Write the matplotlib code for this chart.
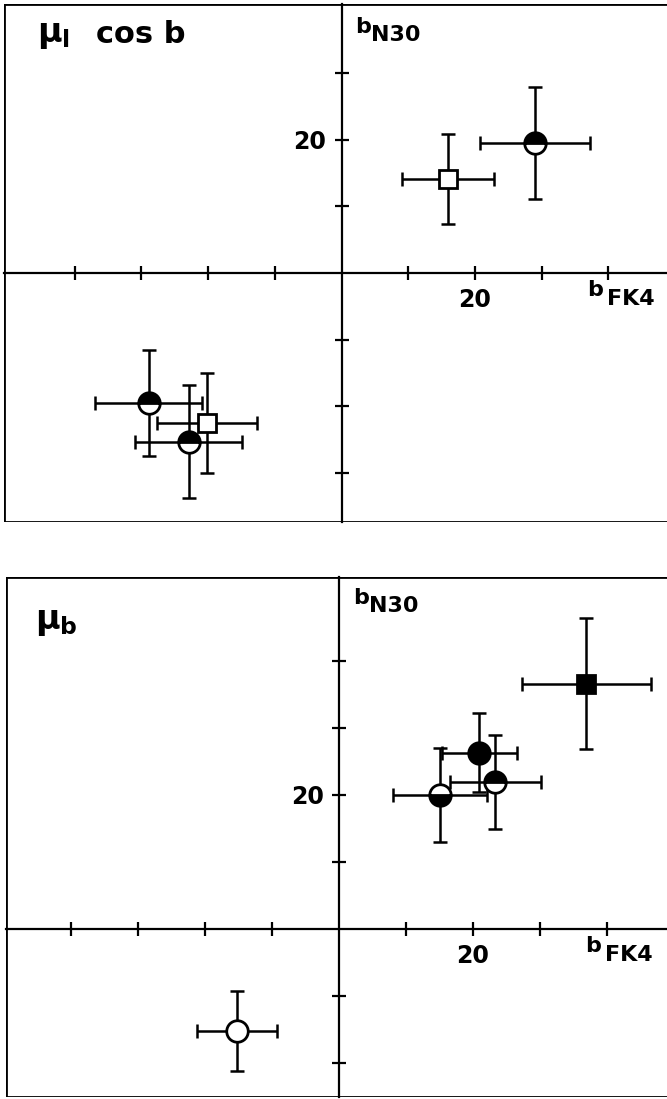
import matplotlib
matplotlib.use("Agg")
import matplotlib.pyplot as plt
from matplotlib.patches import Rectangle

# ---------------- data ----------------
# top panel: mu_l cos b   (b_FK4 on x, b_N30 on y)
top_x = [16.0, 29.0, -28.9, -20.2, -22.9]
top_y = [14.1, 19.5, -19.5, -22.5, -25.3]
top_xerr = [6.9, 8.3, 8.0, 7.5, 8.0]
top_yerr = [6.8, 8.4, 8.0, 7.5, 8.5]
top_marker = ["s", "o", "o", "s", "o"]
top_fill = ["none", "top", "top", "none", "top"]

# bottom panel: mu_b
bot_x = [15.1, 20.9, 23.3, 36.9, -15.2]
bot_y = [20.0, 26.3, 21.9, 36.6, -15.2]
bot_xerr = [7.0, 5.6, 6.8, 9.6, 6.0]
bot_yerr = [7.0, 5.9, 7.0, 9.8, 6.0]
bot_marker = ["o", "o", "o", "s", "o"]
bot_fill = ["bottom", "full", "top", "full", "none"]

x_ticks = [-40, -30, -20, -10, 10, 20, 30, 40]
top_y_ticks = [-30, -20, -10, 10, 20, 30]
bot_y_ticks = [-20, -10, 10, 20, 30, 40]
labelled_tick = 20

W, H = 667, 1099
fig = plt.figure(figsize=(W / 100, H / 100), dpi=100)
plt.rcParams["font.family"] = ["DejaVu Sans"]


def ftext(px, py, s, size, **kw):
    """Text placed by figure pixel position (top-left anchor)."""
    fig.text(px / W, 1 - py / H, s, fontsize=size, fontweight="bold",
             va="top", ha="left", **kw)


def make_axes(px_left, px_right, px_top, px_bottom, x0, y0, scale):
    ax = fig.add_axes([px_left / W, 1 - px_bottom / H,
                       (px_right - px_left) / W, (px_bottom - px_top) / H])
    ax.set_xlim((px_left - x0) / scale, (px_right - x0) / scale)
    ax.set_ylim((y0 - px_bottom) / scale, (y0 - px_top) / scale)
    return ax


def style(ax, yticks):
    ax.spines["left"].set_position(("data", 0))
    ax.spines["bottom"].set_position(("data", 0))
    ax.spines["top"].set_visible(False)
    ax.spines["right"].set_visible(False)
    for s in ("left", "bottom"):
        ax.spines[s].set_linewidth(1.6)
    ax.add_patch(Rectangle((0, 0), 1.02, 1, transform=ax.transAxes, fill=False,
                           lw=2.0, ec="black", clip_on=True, zorder=5))
    ax.set_xticks(x_ticks)
    ax.set_xticklabels([str(t) if t == labelled_tick else "" for t in x_ticks])
    ax.set_yticks(yticks)
    ax.set_yticklabels([str(t) if t == labelled_tick else "" for t in yticks])
    ax.tick_params(direction="inout", length=10, width=1.6, labelsize=17, pad=6)
    for lab in ax.get_xticklabels() + ax.get_yticklabels():
        lab.set_fontweight("bold")


def draw_points(ax, xs, ys, xe, ye, markers, fills):
    for x, y, dx, dy, m, f in zip(xs, ys, xe, ye, markers, fills):
        ms = 15.5 if m == "o" else 13
        ax.errorbar([x], [y], xerr=[dx], yerr=[dy], fmt="none", ecolor="black",
                    elinewidth=1.8, capsize=5, capthick=1.8, zorder=3)
        if f == "none":
            ax.plot([x], [y], marker=m, ms=ms, mfc="white", mec="black", mew=2.0,
                    ls="none", zorder=4)
        else:
            ax.plot([x], [y], marker=m, ms=ms, fillstyle=f, mfc="black",
                    mfcalt="white", mec="black", mew=2.0, ls="none", zorder=4)


# ---------------- top panel ----------------
ax1 = make_axes(4, 669, 4, 522, 341.5, 273, 6.67)
style(ax1, top_y_ticks)
draw_points(ax1, top_x, top_y, top_xerr, top_yerr, top_marker, top_fill)
ftext(37, 18, r"$\mathbf{\mu}_{\mathbf{l}}$", 24)
ftext(96, 20, "cos b", 22)
ftext(355, 17, "b", 16)
ftext(371, 25, "N30", 16)
ftext(587, 280, "b", 16)
ftext(607, 289, "FK4", 16)

# ---------------- bottom panel ----------------
ax2 = make_axes(6, 669, 577, 1097, 339, 929, 6.7)
style(ax2, bot_y_ticks)
draw_points(ax2, bot_x, bot_y, bot_xerr, bot_yerr, bot_marker, bot_fill)
ftext(35, 605, r"$\mathbf{\mu}_{\mathbf{b}}$", 24)
ftext(353, 588, "b", 16)
ftext(369, 596, "N30", 16)
ftext(585, 936, "b", 16)
ftext(605, 945, "FK4", 16)

fig.savefig("out.png", dpi=100)
